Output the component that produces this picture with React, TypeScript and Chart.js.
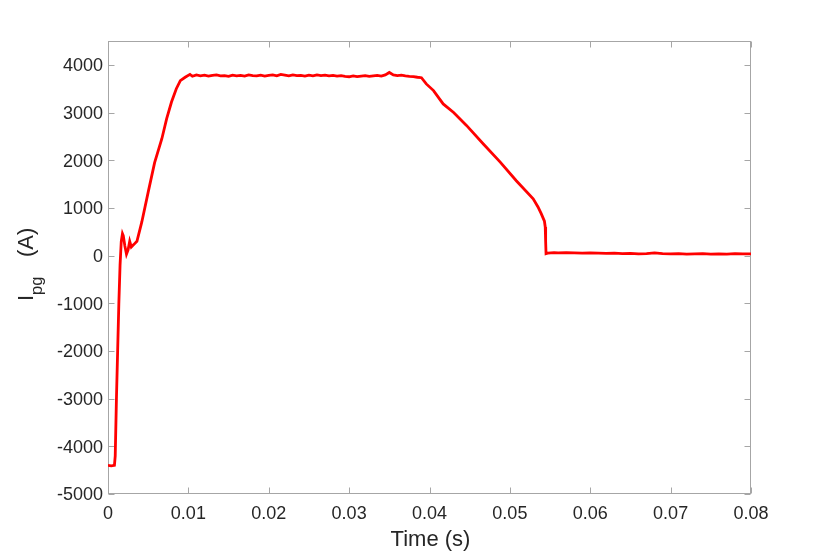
import React, { useEffect, useRef } from 'react';
import { Chart, registerables } from 'chart.js';
Chart.register(...registerables);

// Time (s) and current I_pg (A)
const timeS = [
  0, 0.0004, 0.0008, 0.0009, 0.00105, 0.0012, 0.00135, 0.0015, 0.00165, 0.0018, 0.0019,
  0.0021, 0.0023, 0.0025, 0.0027, 0.0029, 0.0032, 0.0036, 0.0042, 0.005, 0.0058,
  0.0067, 0.0073, 0.0079, 0.0085, 0.009, 0.0096, 0.0102,
  0.0105, 0.011, 0.0115, 0.012, 0.0125, 0.013, 0.0135, 0.014, 0.0145, 0.015,
  0.0155, 0.016, 0.0165, 0.017, 0.0175, 0.018, 0.0185, 0.019, 0.0195, 0.02,
  0.0205, 0.021, 0.0215, 0.022, 0.0225, 0.023, 0.0235, 0.024, 0.0245, 0.025,
  0.0255, 0.026, 0.0265, 0.027, 0.0275, 0.028, 0.0285, 0.029, 0.0295, 0.03,
  0.0305, 0.031, 0.0315, 0.032, 0.0325, 0.033, 0.0335, 0.034, 0.0345, 0.035,
  0.0355, 0.036, 0.0365, 0.037, 0.0375, 0.038, 0.0385,
  0.039, 0.0396, 0.0405, 0.0417, 0.043, 0.0446, 0.0467, 0.0488, 0.0508, 0.0529,
  0.0535, 0.0539, 0.0543, 0.0544, 0.05445, 0.0545,
  0.0547, 0.0555, 0.056, 0.057, 0.058, 0.059, 0.06, 0.061, 0.062, 0.063, 0.064,
  0.065, 0.066, 0.067, 0.068, 0.069, 0.07, 0.071, 0.072, 0.073, 0.074, 0.075,
  0.076, 0.077, 0.078, 0.079, 0.08,
];
const currentA = [
  -4400, -4410, -4400, -4200, -3000, -2000, -1000, -200, 300, 460, 420,
  200, 30, 120, 300, 180, 230, 300, 700, 1330, 1950,
  2450, 2870, 3220, 3500, 3670, 3740, 3800,
  3760, 3790, 3770, 3785, 3765, 3780, 3790, 3770, 3775, 3760,
  3785, 3770, 3780, 3765, 3790, 3775, 3770, 3785, 3765, 3780,
  3790, 3770, 3800, 3785, 3770, 3790, 3775, 3780, 3765, 3785,
  3770, 3790, 3775, 3785, 3770, 3780, 3765, 3775, 3760, 3750,
  3770, 3755, 3765, 3775, 3760, 3770, 3780, 3765, 3790, 3840,
  3790, 3775, 3785, 3770, 3760, 3755, 3740,
  3730, 3600, 3460, 3180, 3000, 2730, 2340, 1960, 1570, 1190,
  1020, 880, 720, 600, 300, 40,
  50, 60, 55, 60, 55, 50, 55, 50, 45, 50, 40,
  45, 35, 40, 55, 40, 35, 40, 30, 35, 40, 30,
  35, 30, 40, 35, 35,
];

const xTickValues = [0, 0.01, 0.02, 0.03, 0.04, 0.05, 0.06, 0.07, 0.08];
const xTickLabels = ['0', '0.01', '0.02', '0.03', '0.04', '0.05', '0.06', '0.07', '0.08'];
const yTickValues = [-5000, -4000, -3000, -2000, -1000, 0, 1000, 2000, 3000, 4000];
const yTickLabels = ['-5000', '-4000', '-3000', '-2000', '-1000', '0', '1000', '2000', '3000', '4000'];

const xLabel = 'Time (s)';
const yLabelMain = 'I';
const yLabelSub = 'pg';
const yLabelUnit = '(A)';

const FONT = '"Liberation Sans", Arial, Helvetica, sans-serif';
const TEXT = '#262626';
const AXIS = '#a6a6a6';

const framePlugin = {
  id: 'frame',
  beforeDatasetsDraw(chart: any) {
    const { ctx, chartArea: a, scales } = chart;
    const x = scales.x;
    const y = scales.y;
    ctx.save();
    ctx.strokeStyle = AXIS;
    ctx.lineWidth = 1;
    const L = Math.round(a.left) + 0.5;
    const R = Math.round(a.right) - 0.5;
    const T = Math.round(a.top) + 0.5;
    const B = Math.round(a.bottom) - 0.5;
    ctx.strokeRect(L, T, R - L, B - T);
    const tl = 6;
    ctx.beginPath();
    xTickValues.forEach((v) => {
      const px = Math.round(x.getPixelForValue(v)) + 0.5;
      ctx.moveTo(px, B);
      ctx.lineTo(px, B - tl);
      ctx.moveTo(px, T);
      ctx.lineTo(px, T + tl);
    });
    yTickValues.forEach((v) => {
      const py = Math.round(y.getPixelForValue(v)) + 0.5;
      ctx.moveTo(L, py);
      ctx.lineTo(L + tl, py);
      ctx.moveTo(R, py);
      ctx.lineTo(R - tl, py);
    });
    ctx.stroke();
    ctx.restore();
  },
  afterDraw(chart: any) {
    const { ctx, chartArea: a } = chart;
    ctx.save();
    ctx.fillStyle = TEXT;
    // x title
    ctx.font = `22px ${FONT}`;
    ctx.textAlign = 'center';
    ctx.textBaseline = 'alphabetic';
    ctx.fillText(xLabel, (a.left + a.right) / 2 + 1, 546);
    // y title (rotated, with subscript)
    ctx.translate(33, 301);
    ctx.rotate(-Math.PI / 2);
    ctx.textAlign = 'left';
    ctx.font = `22px ${FONT}`;
    ctx.fillText(yLabelMain, 0, 0);
    const w1 = ctx.measureText(yLabelMain).width;
    ctx.font = `16.5px ${FONT}`;
    ctx.fillText(yLabelSub, w1, 9);
    ctx.font = `22px ${FONT}`;
    ctx.fillText(yLabelUnit, 44, 0);
    ctx.restore();
  },
};

export default function App() {
  const ref = useRef<HTMLCanvasElement>(null);
  useEffect(() => {
    document.body.style.margin = '0';
    const points = timeS.map((t, i) => ({ x: t, y: currentA[i] }));
    const chart = new Chart(ref.current as HTMLCanvasElement, {
      type: 'line',
      data: {
        datasets: [
          {
            data: points,
            borderColor: '#ff0000',
            borderWidth: 2.8,
            pointRadius: 0,
            tension: 0,
            fill: false,
          },
        ],
      },
      options: {
        animation: false,
        responsive: false,
        devicePixelRatio: 1,
        layout: { padding: { left: 0, top: 41, right: 79, bottom: 0 } },
        plugins: { legend: { display: false }, tooltip: { enabled: false } },
        scales: {
          x: {
            type: 'linear',
            min: 0,
            max: 0.08,
            grid: { display: false, drawTicks: false },
            border: { display: false },
            afterFit: (s: any) => { s.height = 62; },
            afterBuildTicks: (s: any) => { s.ticks = xTickValues.map((v) => ({ value: v })); },
            ticks: {
              padding: 9,
              autoSkip: false,
              maxRotation: 0,
              color: TEXT,
              font: { family: FONT, size: 18 },
              callback: (v: any) => {
                const i = xTickValues.findIndex((t) => Math.abs(t - Number(v)) < 1e-9);
                return i >= 0 ? xTickLabels[i] : '';
              },
            },
          },
          y: {
            type: 'linear',
            min: -5000,
            max: 4500,
            grid: { display: false, drawTicks: false },
            border: { display: false },
            afterFit: (s: any) => { s.width = 108; },
            afterBuildTicks: (s: any) => { s.ticks = yTickValues.map((v) => ({ value: v })); },
            ticks: {
              padding: 5,
              labelOffset: 1.5,
              autoSkip: false,
              color: TEXT,
              font: { family: FONT, size: 18 },
              callback: (v: any) => {
                const i = yTickValues.indexOf(Number(v));
                return i >= 0 ? yTickLabels[i] : '';
              },
            },
          },
        },
      },
      plugins: [framePlugin],
    });
    return () => chart.destroy();
  }, []);
  return (
    <div style={{ position: 'fixed', left: 0, top: 0, width: 830, height: 556, background: '#fff' }}>
      <canvas ref={ref} width={830} height={556} style={{ width: 830, height: 556, display: 'block' }} />
    </div>
  );
}
